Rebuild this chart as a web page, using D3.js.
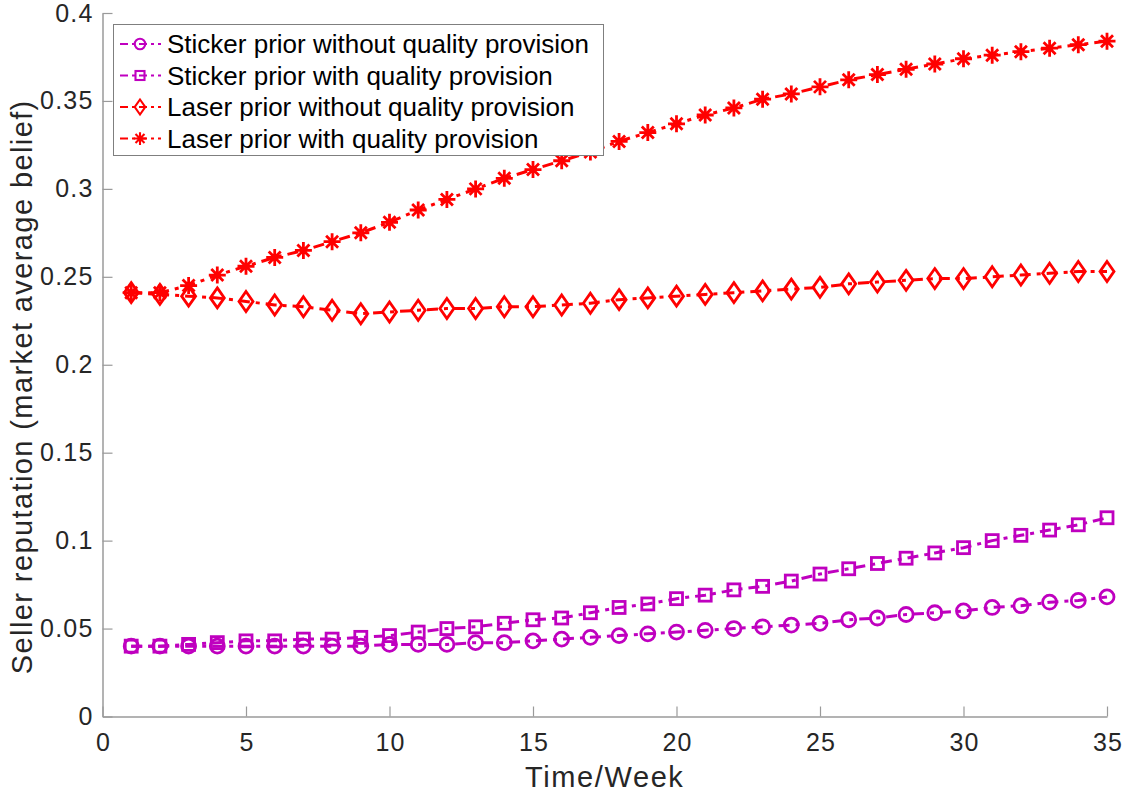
<!DOCTYPE html>
<html>
<head>
<meta charset="utf-8">
<script src="https://cdn.jsdelivr.net/npm/d3@7"></script>
<style>
  body { margin: 0; background: #fff; }
  svg { display: block; font-family: "Liberation Sans", Arial, sans-serif; }
  .tick text { fill: #262626; font-size: 25px; letter-spacing: 1.2px; }
</style>
</head>
<body>
<svg id="chart" width="1122" height="792"></svg>
<script>
// weeks 1..35
const weeks = d3.range(1, 36);

const stickerWithout = [0.040, 0.040, 0.040, 0.040, 0.040, 0.040, 0.040, 0.040, 0.040, 0.041,
  0.041, 0.041, 0.042, 0.042, 0.043, 0.044, 0.045, 0.046, 0.047, 0.048,
  0.049, 0.050, 0.051, 0.052, 0.053, 0.055, 0.056, 0.058, 0.059, 0.060,
  0.062, 0.063, 0.065, 0.066, 0.068];

const stickerWith = [0.040, 0.040, 0.041, 0.042, 0.043, 0.043, 0.044, 0.044, 0.045, 0.046,
  0.048, 0.050, 0.051, 0.053, 0.055, 0.056, 0.059, 0.062, 0.064, 0.067,
  0.069, 0.072, 0.074, 0.077, 0.081, 0.084, 0.087, 0.090, 0.093, 0.096,
  0.100, 0.103, 0.106, 0.109, 0.113];

const laserWithout = [0.241, 0.240, 0.239, 0.238, 0.236, 0.234, 0.233, 0.231, 0.229, 0.230,
  0.231, 0.232, 0.232, 0.233, 0.233, 0.234, 0.235, 0.237, 0.238, 0.239,
  0.240, 0.241, 0.242, 0.243, 0.244, 0.246, 0.247, 0.248, 0.249, 0.249,
  0.250, 0.251, 0.252, 0.253, 0.253];

const laserWith = [0.241, 0.241, 0.245, 0.251, 0.256, 0.261, 0.265, 0.270, 0.275, 0.281,
  0.288, 0.294, 0.300, 0.306, 0.311, 0.316, 0.321, 0.327, 0.332, 0.337,
  0.342, 0.346, 0.351, 0.354, 0.358, 0.362, 0.365, 0.368, 0.371, 0.374,
  0.376, 0.378, 0.380, 0.382, 0.384];

const xTicks = [0, 5, 10, 15, 20, 25, 30, 35];
const yTicks = [0, 0.05, 0.1, 0.15, 0.2, 0.25, 0.3, 0.35, 0.4];

const seriesNames = [
  'Sticker prior without quality provision',
  'Sticker prior with quality provision',
  'Laser prior without quality provision',
  'Laser prior with quality provision'
];

const magenta = '#bf00bf';
const red = '#ff0000';

const series = [
  { name: seriesNames[0], values: stickerWithout, color: magenta, marker: 'circle' },
  { name: seriesNames[1], values: stickerWith, color: magenta, marker: 'square' },
  { name: seriesNames[2], values: laserWithout, color: red, marker: 'diamond' },
  { name: seriesNames[3], values: laserWith, color: red, marker: 'star' }
];

const svg = d3.select('#chart');

const plotLeft = 102.5, plotRight = 1107, plotTop = 13, plotBottom = 716.5;

const xScale = d3.scaleLinear().domain([0, 35]).range([plotLeft, plotRight]);
const yScale = d3.scaleLinear().domain([0, 0.4]).range([plotBottom, plotTop]);

const axisColor = '#9a9a9a';

// x axis, ticks inward
const xAxis = svg.append('g')
  .attr('transform', `translate(0, ${plotBottom})`)
  .call(d3.axisBottom(xScale).tickValues(xTicks).tickSizeInner(-10).tickSizeOuter(0).tickPadding(17)
    .tickFormat(d3.format('d')));
xAxis.select('.domain').attr('stroke', axisColor).attr('stroke-width', 1.5);
xAxis.selectAll('.tick line').attr('stroke', axisColor).attr('stroke-width', 1.2);
xAxis.selectAll('.tick text').attr('dx', '0.6px');

const yAxis = svg.append('g')
  .attr('transform', `translate(${plotLeft}, 0)`)
  .call(d3.axisLeft(yScale).tickValues(yTicks).tickSizeInner(-10).tickSizeOuter(0).tickPadding(9)
    .tickFormat((d) => d === 0 ? '0' : String(+d.toFixed(2))));
yAxis.select('.domain').attr('stroke', axisColor).attr('stroke-width', 1.5);
yAxis.selectAll('.tick line').attr('stroke', axisColor).attr('stroke-width', 1.2);

// axis labels
svg.append('text')
  .attr('x', (plotLeft + plotRight) / 2)
  .attr('y', 787)
  .attr('text-anchor', 'middle')
  .attr('font-size', 29)
  .attr('letter-spacing', 1.6)
  .attr('fill', '#262626')
  .text('Time/Week');

svg.append('text')
  .attr('transform', `translate(22, ${(plotTop + plotBottom) / 2 + 22}) rotate(-90)`)
  .attr('text-anchor', 'middle')
  .attr('dy', '0.35em')
  .attr('font-size', 29)
  .attr('letter-spacing', 1.4)
  .attr('fill', '#262626')
  .text('Seller reputation (market average belief)');

function drawMarker(g, type, color) {
  const s = { fill: 'none', stroke: color, 'stroke-width': 2.8 };
  let m;
  if (type === 'circle') {
    m = g.append('circle').attr('r', 7);
  } else if (type === 'square') {
    m = g.append('rect').attr('x', -6).attr('y', -6).attr('width', 12).attr('height', 12);
  } else if (type === 'diamond') {
    m = g.append('path').attr('d', 'M0,-10L7,0L0,10L-7,0Z');
  } else {
    m = g.append('path').attr('d', 'M-8.5,0H8.5M0,-8.5V8.5M-6,-6L6,6M-6,6L6,-6');
  }
  Object.entries(s).forEach(([k, v]) => m.attr(k, v));
}

const line = d3.line()
  .x((d, i) => xScale(weeks[i]))
  .y((d) => yScale(d));

const dash = '11,6,4,6';

series.forEach((s) => {
  svg.append('path')
    .datum(s.values)
    .attr('d', line)
    .attr('fill', 'none')
    .attr('stroke', s.color)
    .attr('stroke-width', 3)
    .attr('stroke-dasharray', dash);

  svg.append('g').selectAll('g')
    .data(s.values)
    .enter()
    .append('g')
    .attr('transform', (d, i) => `translate(${xScale(weeks[i])}, ${yScale(d)})`)
    .each(function () { drawMarker(d3.select(this), s.marker, s.color); });
});

// legend
const legend = svg.append('g');
legend.append('rect')
  .attr('x', 113.5).attr('y', 24.5)
  .attr('width', 490).attr('height', 131)
  .attr('fill', '#fff')
  .attr('stroke', '#7f7f7f')
  .attr('stroke-width', 1);

series.forEach((s, i) => {
  const y = 44 + i * 31.5;
  const g = legend.append('g');
  g.append('line')
    .attr('x1', 120).attr('x2', 161)
    .attr('y1', y).attr('y2', y)
    .attr('stroke', s.color)
    .attr('stroke-width', 2.2)
    .attr('stroke-dasharray', '8,4,3,4');
  const mk = g.append('g').attr('transform', `translate(140, ${y}) scale(0.75)`);
  drawMarker(mk, s.marker, s.color);
  g.append('text')
    .attr('x', 167)
    .attr('y', y)
    .attr('dy', '0.36em')
    .attr('font-size', 26)
    .attr('fill', '#000')
    .text(s.name);
});
</script>
</body>
</html>
